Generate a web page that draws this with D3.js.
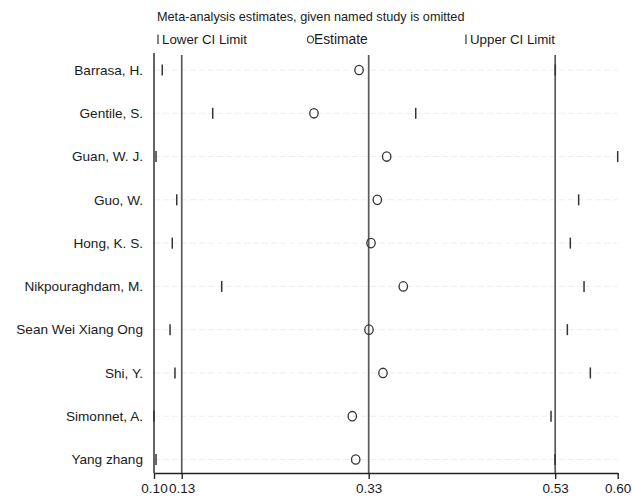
<!DOCTYPE html>
<html>
<head>
<meta charset="utf-8">
<script src="https://cdn.jsdelivr.net/npm/d3@7"></script>
<style>
  html, body { margin: 0; padding: 0; background: #fff; }
  svg { display: block; font-family: "Liberation Sans", Arial, sans-serif; }
</style>
</head>
<body>
<svg id="chart" width="632" height="502"></svg>
<script>
// Leave-one-out sensitivity analysis: pooled estimate with each study omitted
const studies = [
  "Barrasa, H.", "Gentile, S.", "Guan, W. J.", "Guo, W.", "Hong, K. S.",
  "Nikpouraghdam, M.", "Sean Wei Xiang Ong", "Shi, Y.", "Simonnet, A.", "Yang zhang"
];
const lowerCI  = [0.1089, 0.1633, 0.1022, 0.1245, 0.1197, 0.1730, 0.1173, 0.1226, 0.1000, 0.1022];
const estimate = [0.3211, 0.2725, 0.3509, 0.3408, 0.3340, 0.3688, 0.3318, 0.3469, 0.3138, 0.3175];
const upperCI  = [0.5327, 0.3822, 0.6000, 0.5579, 0.5489, 0.5637, 0.5457, 0.5705, 0.5281, 0.5324];

// Pooled result with all studies included (reference lines)
const overall = [0.1299, 0.3315, 0.5326];
const axisMin = 0.10, axisMax = 0.60;
const tickValues = [axisMin, ...overall, axisMax];

const title = "Meta-analysis estimates, given named study is omitted";
const legendItems = [
  { label: "Lower CI Limit", symbol: "bar" },
  { label: "Estimate", symbol: "circle" },
  { label: "Upper CI Limit", symbol: "bar" }
];

const svg = d3.select("#chart");
const x = d3.scaleLinear().domain([axisMin, axisMax]).range([154, 617.7]);
const y = d3.scalePoint().domain(studies).range([70, 459.5]);
const plotTop = 55, plotBottom = 473;
const ink = "#1a1a1a";

// faint row guides
svg.append("g").selectAll("line").data(studies).join("line")
  .attr("x1", x(axisMin)).attr("x2", x(axisMax))
  .attr("y1", d => y(d)).attr("y2", d => y(d))
  .attr("stroke", "#efefef").attr("stroke-width", 1)
  .attr("stroke-dasharray", "6,3");

// reference lines at pooled CI limits and estimate
svg.append("g").selectAll("line").data(overall).join("line")
  .attr("x1", d => x(d)).attr("x2", d => x(d))
  .attr("y1", plotTop).attr("y2", plotBottom)
  .attr("stroke", "#5a5a5a").attr("stroke-width", 1.7);

// left axis line
svg.append("line")
  .attr("x1", x(axisMin)).attr("x2", x(axisMin))
  .attr("y1", plotTop - 2).attr("y2", plotBottom)
  .attr("stroke", "#222").attr("stroke-width", 1.4);

// bottom axis
const xAxis = d3.axisBottom(x)
  .tickValues(tickValues)
  .tickFormat(d3.format(".2f"))
  .tickSize(6)
  .tickSizeOuter(0);
const ax = svg.append("g").attr("transform", `translate(0,${plotBottom})`).call(xAxis);
ax.select(".domain").attr("stroke", "#222").attr("stroke-width", 1.4);
ax.selectAll(".tick line").attr("stroke", "#222").attr("stroke-width", 1.4);
ax.selectAll(".tick text")
  .attr("font-family", "Liberation Sans, Arial, sans-serif")
  .attr("font-size", 13.5).attr("fill", ink).attr("dy", "0.8em");

// study labels
svg.append("g").selectAll("text").data(studies).join("text")
  .attr("x", 143).attr("y", d => y(d))
  .attr("dy", "0.35em")
  .attr("text-anchor", "end")
  .attr("font-size", 13.6).attr("fill", ink)
  .text(d => d);

const rows = studies.map((s, i) => ({ s, lo: lowerCI[i], est: estimate[i], hi: upperCI[i] }));

// CI limit marks
const marks = svg.append("g");
marks.selectAll("line.lo").data(rows).join("line").attr("class", "lo")
  .attr("x1", d => x(d.lo)).attr("x2", d => x(d.lo))
  .attr("y1", d => y(d.s) - 5.5).attr("y2", d => y(d.s) + 5.5)
  .attr("stroke", "#333").attr("stroke-width", 1.5);
marks.selectAll("line.hi").data(rows).join("line").attr("class", "hi")
  .attr("x1", d => x(d.hi)).attr("x2", d => x(d.hi))
  .attr("y1", d => y(d.s) - 5.5).attr("y2", d => y(d.s) + 5.5)
  .attr("stroke", "#333").attr("stroke-width", 1.5);

// estimates
marks.selectAll("ellipse").data(rows).join("ellipse")
  .attr("cx", d => x(d.est)).attr("cy", d => y(d.s))
  .attr("rx", 4.2).attr("ry", 4.7)
  .attr("fill", "none").attr("stroke", "#333").attr("stroke-width", 1.3);

// title and legend
svg.append("text").attr("x", 157).attr("y", 21)
  .attr("font-size", 12.7).attr("fill", ink).text(title);

const legendX = [157, 307, 465];
const leg = svg.append("g").selectAll("g").data(legendItems).join("g")
  .attr("transform", (d, i) => `translate(${legendX[i]},44)`);
leg.each(function(d) {
  const g = d3.select(this);
  if (d.symbol === "bar") {
    g.append("line").attr("x1", 1).attr("x2", 1).attr("y1", -9.5).attr("y2", 0)
      .attr("stroke", "#333").attr("stroke-width", 1.2);
    g.append("text").attr("x", 5).attr("y", 0).attr("font-size", 13.3).attr("fill", ink).text(d.label);
  } else {
    g.append("ellipse").attr("cx", 3.5).attr("cy", -4.5).attr("rx", 3).attr("ry", 3.5)
      .attr("fill", "none").attr("stroke", "#333").attr("stroke-width", 1.1);
    g.append("text").attr("x", 7).attr("y", 0).attr("font-size", 13.8).attr("fill", ink).text(d.label);
  }
});
</script>
</body>
</html>
